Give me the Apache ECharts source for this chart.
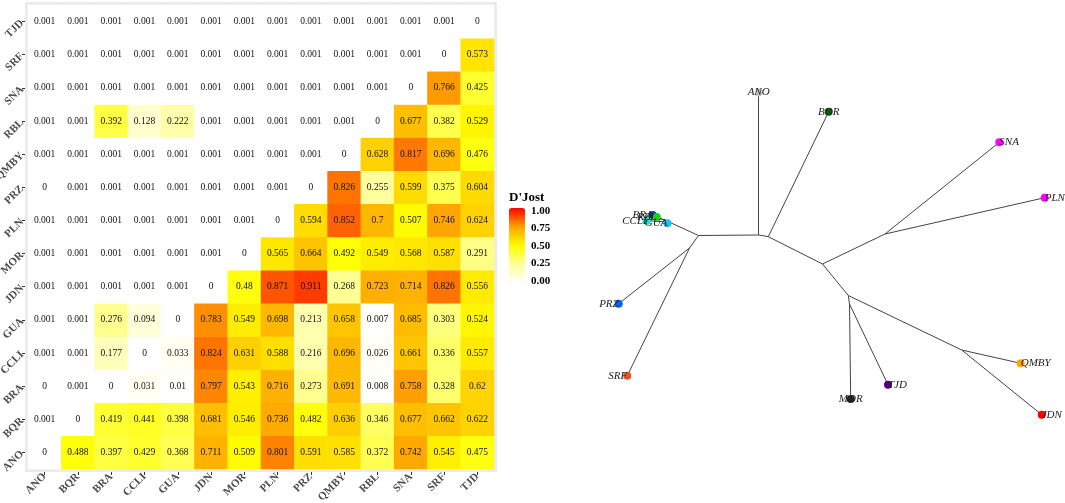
<!DOCTYPE html>
<html lang="en">
<head>
<meta charset="UTF-8">
<title>D'Jost heatmap and tree</title>
<script src="https://cdn.jsdelivr.net/npm/echarts@6/dist/echarts.min.js"></script>
<style>
  html, body { margin: 0; padding: 0; background: #fff; }
  #chart { width: 1065px; height: 503px; }
</style>
</head>
<body>
<div id="chart"></div>
<script>
// populations, same order on both axes
var pops = ['ANO', 'BQR', 'BRA', 'CCLI', 'GUA', 'JDN', 'MOR', 'PLN', 'PRZ', 'QMBY', 'RBL', 'SNA', 'SRF', 'TJD'];

// one row per y category (bottom to top), one value per x category
var rowANO  = [0, 0.488, 0.397, 0.429, 0.368, 0.711, 0.509, 0.801, 0.591, 0.585, 0.372, 0.742, 0.545, 0.475];
var rowBQR  = [0.001, 0, 0.419, 0.441, 0.398, 0.681, 0.546, 0.736, 0.482, 0.636, 0.346, 0.677, 0.662, 0.622];
var rowBRA  = [0, 0.001, 0, 0.031, 0.01, 0.797, 0.543, 0.716, 0.273, 0.691, 0.008, 0.758, 0.328, 0.62];
var rowCCLI = [0.001, 0.001, 0.177, 0, 0.033, 0.824, 0.631, 0.588, 0.216, 0.696, 0.026, 0.661, 0.336, 0.557];
var rowGUA  = [0.001, 0.001, 0.276, 0.094, 0, 0.783, 0.549, 0.698, 0.213, 0.658, 0.007, 0.685, 0.303, 0.524];
var rowJDN  = [0.001, 0.001, 0.001, 0.001, 0.001, 0, 0.48, 0.871, 0.911, 0.268, 0.723, 0.714, 0.826, 0.556];
var rowMOR  = [0.001, 0.001, 0.001, 0.001, 0.001, 0.001, 0, 0.565, 0.664, 0.492, 0.549, 0.568, 0.587, 0.291];
var rowPLN  = [0.001, 0.001, 0.001, 0.001, 0.001, 0.001, 0.001, 0, 0.594, 0.852, 0.7, 0.507, 0.746, 0.624];
var rowPRZ  = [0, 0.001, 0.001, 0.001, 0.001, 0.001, 0.001, 0.001, 0, 0.826, 0.255, 0.599, 0.375, 0.604];
var rowQMBY = [0.001, 0.001, 0.001, 0.001, 0.001, 0.001, 0.001, 0.001, 0.001, 0, 0.628, 0.817, 0.696, 0.476];
var rowRBL  = [0.001, 0.001, 0.392, 0.128, 0.222, 0.001, 0.001, 0.001, 0.001, 0.001, 0, 0.677, 0.382, 0.529];
var rowSNA  = [0.001, 0.001, 0.001, 0.001, 0.001, 0.001, 0.001, 0.001, 0.001, 0.001, 0.001, 0, 0.766, 0.425];
var rowSRF  = [0.001, 0.001, 0.001, 0.001, 0.001, 0.001, 0.001, 0.001, 0.001, 0.001, 0.001, 0.001, 0, 0.573];
var rowTJD  = [0.001, 0.001, 0.001, 0.001, 0.001, 0.001, 0.001, 0.001, 0.001, 0.001, 0.001, 0.001, 0.001, 0];
var rows = [rowANO, rowBQR, rowBRA, rowCCLI, rowGUA, rowJDN, rowMOR, rowPLN, rowPRZ, rowQMBY, rowRBL, rowSNA, rowSRF, rowTJD];

var legendTicks = [0, 0.25, 0.5, 0.75, 1];

// unrooted tree: node positions in layout units
var tipNames = ['ANO', 'BOR', 'SNA', 'PLN', 'QMBY', 'JDN', 'TJD', 'MOR', 'SRF', 'PRZ', 'CCLI', 'BRA', 'RBL', 'GUA'];
var tipX     = [758.7, 828.7, 999.3, 1044.7, 1020.7, 1041.7, 888, 850.7, 627.3, 618.7, 646.7, 652.7, 656.7, 667.3];
var tipY     = [92.5, 111.7, 142.3, 197.7, 363.3, 414.7, 384.7, 399, 375.7, 303.7, 220.7, 215, 217, 223.3];
var tipColors = ['#c8c8c8', '#006400', '#ff00ff', '#ff00ff', '#ffa500', '#ff0000', '#53007a', '#222222',
                 '#e0562a', '#0062ff', '#12e6c8', '#1640a8', '#18d018', '#12c2f2'];
var innerNames = ['n1', 'n2', 'n3', 'n4', 'n5', 'n6', 'n7', 'nA', 'nI', 'nH'];
var innerX     = [758.7, 768.3, 822.5, 885, 848.3, 849.5, 961.7, 698.5, 689.5, 669];
var innerY     = [235, 236.7, 264, 234, 295.5, 304, 350, 235.5, 248, 222];
var edges = [
  ['nA', 'n1'], ['n1', 'ANO'], ['n1', 'n2'], ['n2', 'BOR'], ['n2', 'n3'], ['n3', 'n4'],
  ['n4', 'SNA'], ['n4', 'PLN'], ['n3', 'n5'], ['n5', 'n6'], ['n6', 'MOR'], ['n6', 'TJD'],
  ['n5', 'n7'], ['n7', 'QMBY'], ['n7', 'JDN'], ['nA', 'nI'], ['nI', 'PRZ'], ['nI', 'SRF'],
  ['nA', 'nH'], ['nH', 'BRA'], ['nH', 'RBL'], ['nH', 'CCLI'], ['nH', 'GUA']
];

// where each tip label sits relative to its point
var labelPlace = {
  ANO:  { offset: [0, -8], align: 'center' },
  BOR:  { offset: [5, -6], align: 'center' },
  SNA:  { offset: [1, -2], align: 'left' },
  PLN:  { offset: [1, -3], align: 'left' },
  QMBY: { offset: [1, -3], align: 'left' },
  JDN:  { offset: [1, -3], align: 'left' },
  TJD:  { offset: [-2, 2], align: 'left' },
  MOR:  { offset: [-2, 2], align: 'center' },
  SRF:  { offset: [3, 2], align: 'right' },
  PRZ:  { offset: [-1, -3], align: 'right' },
  CCLI: { offset: [-1, -2], align: 'right' },
  BRA:  { offset: [-3, -4], align: 'right' },
  RBL:  { offset: [-1, -5], align: 'right' },
  GUA:  { offset: [3, -6], align: 'right' }
};

var serif = "'Liberation Serif', 'Times New Roman', serif";

var heatData = [];
rows.forEach(function (row, yi) {
  row.forEach(function (v, xi) {
    heatData.push([xi, yi, v]);
  });
});

var treeNodes = [];
innerNames.forEach(function (n, i) {
  treeNodes.push({ name: n, value: [innerX[i], innerY[i]], symbolSize: 0, label: { show: false } });
});
tipNames.forEach(function (n, i) {
  var p = labelPlace[n];
  treeNodes.push({
    name: n,
    value: [tipX[i], tipY[i]],
    symbolSize: 8,
    itemStyle: { color: tipColors[i] },
    label: {
      show: true,
      position: 'inside',
      offset: p.offset,
      align: p.align,
      verticalAlign: 'middle',
      formatter: n
    }
  });
});

var myChart = echarts.init(document.getElementById('chart'));

var option = {
  backgroundColor: '#ffffff',
  animation: false,
  title: {
    text: "D'Jost",
    left: 509,
    top: 191,
    padding: 0,
    textStyle: { fontFamily: serif, fontWeight: 'bold', fontSize: 13, color: '#000' }
  },
  grid: [
    { left: 28, top: 5, width: 466, height: 464, show: true, backgroundColor: '#ebebeb',
      borderColor: '#ebebeb', borderWidth: 6, containLabel: false, outerBoundsMode: 'none' },
    { left: 560, top: 0, right: 0, bottom: 0, containLabel: false, outerBoundsMode: 'none' },
    { left: 509, top: 211, width: 16, height: 70, containLabel: false, outerBoundsMode: 'none' }
  ],
  xAxis: [
    {
      type: 'category', data: pops, gridIndex: 0, offset: 3,
      axisLine: { show: false },
      axisTick: { show: true, length: 3, alignWithLabel: true, lineStyle: { color: '#333' } },
      axisLabel: { rotate: 45, margin: 3, interval: 0, fontFamily: serif, fontSize: 11, fontWeight: 'bold', color: '#4d4d4d' },
      splitLine: { show: false }
    },
    { type: 'value', gridIndex: 1, min: 560, max: 1065, show: false },
    { type: 'value', gridIndex: 2, min: 0, max: 1, show: false }
  ],
  yAxis: [
    {
      type: 'category', data: pops, gridIndex: 0, offset: 3,
      axisLine: { show: false },
      axisTick: { show: true, length: 3, alignWithLabel: true, lineStyle: { color: '#333' } },
      axisLabel: { rotate: 45, margin: 3, interval: 0, fontFamily: serif, fontSize: 11, fontWeight: 'bold', color: '#4d4d4d' },
      splitLine: { show: false }
    },
    { type: 'value', gridIndex: 1, min: 0, max: 503, inverse: true, show: false },
    {
      type: 'value', gridIndex: 2, min: legendTicks[0], max: legendTicks[legendTicks.length - 1],
      interval: 0.25, position: 'right',
      axisLine: { show: false },
      axisTick: { show: false },
      splitLine: { show: false },
      axisLabel: {
        margin: 6, fontFamily: serif, fontSize: 11, fontWeight: 'bold', color: '#000',
        formatter: function (v) { return v.toFixed(2); }
      }
    }
  ],
  visualMap: {
    type: 'continuous',
    seriesIndex: 0,
    min: 0,
    max: 1,
    calculable: false,
    orient: 'vertical',
    left: 509,
    top: 208,
    padding: 0,
    itemWidth: 16,
    itemHeight: 76,
    inRange: { color: ['#ffffff', '#ffffa0', '#ffff00', '#ffa500', '#ff0000'] }
  },
  series: [
    {
      type: 'heatmap',
      xAxisIndex: 0,
      yAxisIndex: 0,
      data: heatData,
      label: {
        show: true,
        fontFamily: serif,
        fontSize: 9.5,
        color: '#111',
        formatter: function (p) { return String(p.value[2]); }
      },
      itemStyle: { borderWidth: 0 }
    },
    {
      type: 'graph',
      layout: 'none',
      coordinateSystem: 'cartesian2d',
      xAxisIndex: 1,
      yAxisIndex: 1,
      symbol: 'circle',
      data: treeNodes,
      links: edges.map(function (e) { return { source: e[0], target: e[1] }; }),
      lineStyle: { color: '#444', width: 1, opacity: 1, curveness: 0 },
      label: { fontFamily: serif, fontStyle: 'italic', fontSize: 11, color: '#222' },
      labelLayout: { hideOverlap: false },
      z: 3
    }
  ]
};

myChart.setOption(option);
</script>
</body>
</html>
